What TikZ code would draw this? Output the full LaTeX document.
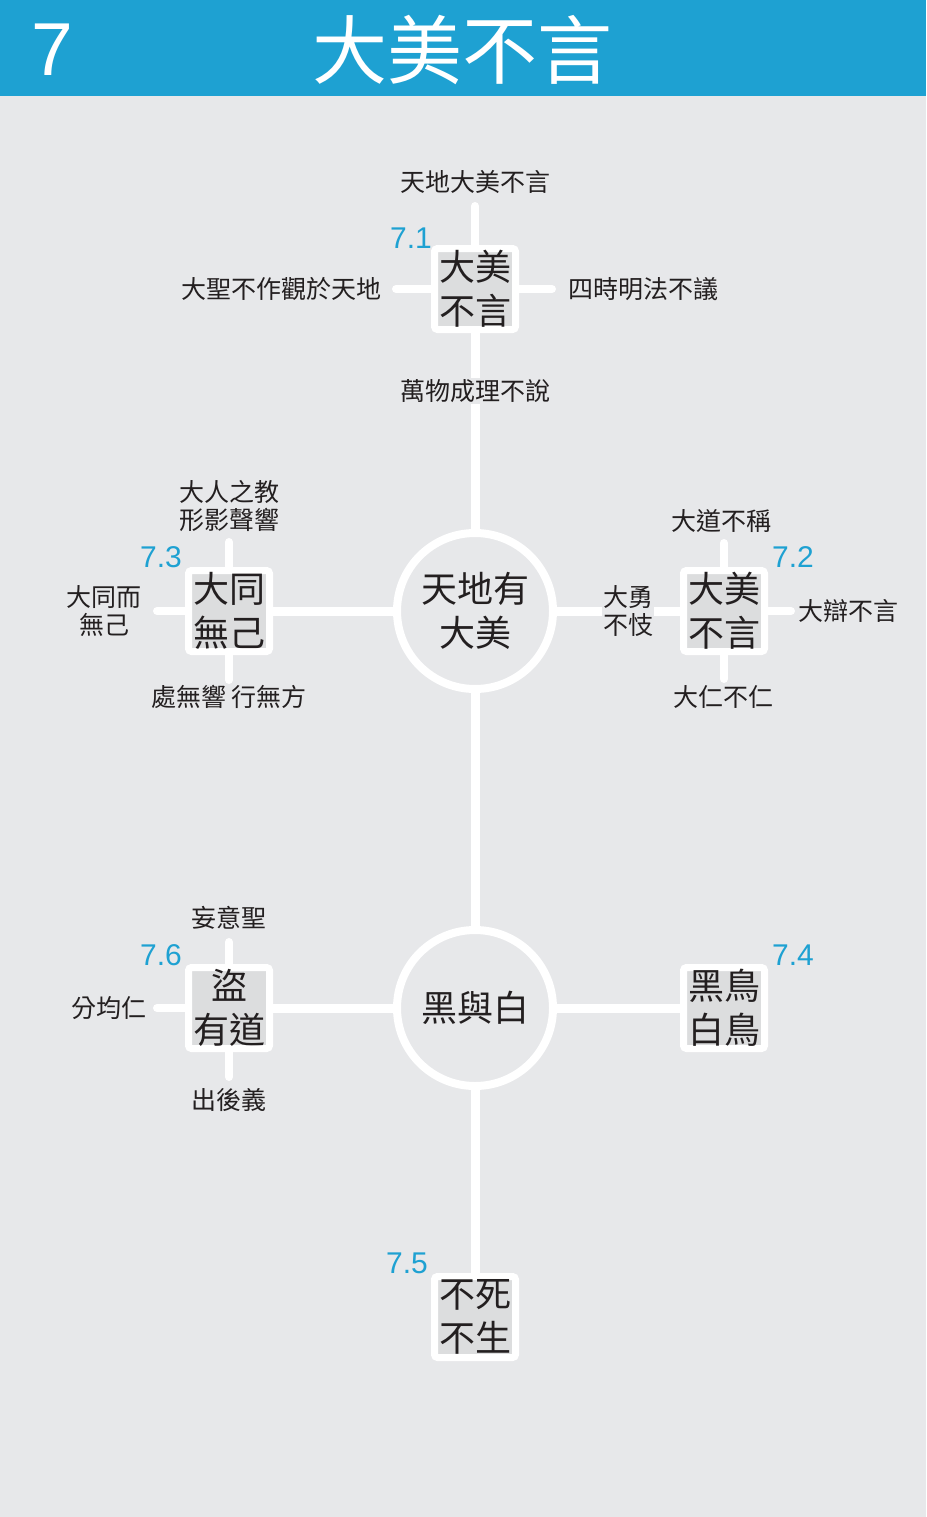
\documentclass[tikz,border=0pt]{standalone}
\usepackage{fontspec}
\setmainfont{Noto Sans CJK TC}
\newfontfamily\numfont{Liberation Sans}
\usetikzlibrary{calc}
\definecolor{bg}{HTML}{E7E8EA}
\definecolor{hl}{HTML}{DCDDDE}
\definecolor{band}{HTML}{1EA1D2}
\definecolor{ink}{HTML}{231F20}
\pgfdeclarelayer{back}
\pgfdeclarelayer{links}
\pgfsetlayers{back,links,main}

\begin{document}
\begin{tikzpicture}[x=1pt,y=-1pt,
    box/.style={draw=white,line width=7pt,rounded corners=3pt,fill=hl,text=ink,
      minimum width=81pt,minimum height=81pt,inner sep=0pt,align=center,
      font=\fontsize{36}{44}\selectfont},
    hub/.style={circle,draw=white,line width=8pt,fill=bg,text=ink,
      minimum size=156pt,inner sep=0pt,align=center,font=\fontsize{36}{44}\selectfont},
    leaf/.style={text=ink,inner sep=1pt,align=center,font=\fontsize{25}{28}\selectfont},
    tag/.style={text=band,font=\numfont\fontsize{30}{30}\selectfont},
    link/.style={draw=white,line width=9pt},
    stub/.style={draw=white,line width=8pt,line cap=round}]

  \useasboundingbox (0,0) rectangle (926,1517);
  \begin{pgfonlayer}{back}
    \fill[bg] (0,0) rectangle (926,1517);
    \fill[band] (0,0) rectangle (926,96);
  \end{pgfonlayer}

  \node[text=white,font=\numfont\fontsize{75}{75}\selectfont] (N) at (52,50) {7};
  \node[text=white,font=\fontsize{75}{75}\selectfont] (T) at (462,50) {大美不言};

  \coordinate (A) at (475,611);
  \coordinate (B) at (475,1008);
  \node[hub] (H1) at (A) {天地有\\大美};
  \node[hub] (H2) at (B) {黑與白};

  \node[box] (K1) at (475,289)  {大美\\不言};
  \node[box] (K2) at (724,611)  {大美\\不言};
  \node[box] (K3) at (229,611)  {大同\\無己};
  \node[box] (K4) at (724,1008) {黑鳥\\白鳥};
  \node[box] (K5) at (475,1317) {不死\\不生};
  \node[box] (K6) at (229,1008) {盜\\有道};

  \node[tag] (G1) at (411,238)  {7.1};
  \node[tag] (G2) at (793,557)  {7.2};
  \node[tag] (G3) at (161,557)  {7.3};
  \node[tag] (G4) at (793,955)  {7.4};
  \node[tag] (G5) at (407,1263) {7.5};
  \node[tag] (G6) at (161,955)  {7.6};

  \coordinate (K1n) at (475,206);
  \coordinate (K1w) at (396,289);
  \coordinate (K1e) at (552,289);
  \coordinate (K2n) at (724,543);
  \coordinate (K2e) at (791,611);
  \coordinate (K2s) at (724,679);
  \coordinate (K3n) at (229,542);
  \coordinate (K3w) at (157,611);
  \coordinate (K3s) at (229,680);
  \coordinate (K6n) at (229,942);
  \coordinate (K6w) at (157,1008);
  \coordinate (K6s) at (229,1077);

  \node[leaf] (L1n) at (475,182) {天地大美不言};
  \node[leaf,anchor=east] (L1w) at (383,289) {大聖不作觀於天地};
  \node[leaf,anchor=west] (L1e) at (567,289) {四時明法不議};
  \node[leaf,fill=bg] (L1s) at (475,391) {萬物成理不說};
  \node[leaf] (L2n) at (721,521) {大道不稱};
  \node[leaf,fill=bg] (L2w) at (628,611) {大勇\\不忮};
  \node[leaf,anchor=west] (L2e) at (797,611) {大辯不言};
  \node[leaf] (L2s) at (723,697) {大仁不仁};
  \node[leaf] (L3n) at (229,506) {大人之教\\形影聲響};
  \node[leaf] (L3w) at (104,611) {大同而\\無己};
  \node[leaf] (L3s) at (229,697) {處無響 行無方};
  \node[leaf] (L6n) at (229,918) {妄意聖};
  \node[leaf,anchor=east] (L6w) at (148,1008) {分均仁};
  \node[leaf] (L6s) at (229,1100) {出後義};

  \begin{pgfonlayer}{links}
    \draw[link] (K1) -- (H1) -- (H2) -- (K5);
    \draw[link] (K3) -- (H1) -- (K2);
    \draw[link] (K6) -- (H2) -- (K4);

    \draw[stub] (K1) -- (K1n);
    \draw[stub] (K1) -- (K1w);
    \draw[stub] (K1) -- (K1e);
    \draw[stub] (K2) -- (K2n);
    \draw[stub] (K2) -- (K2e);
    \draw[stub] (K2) -- (K2s);
    \draw[stub] (K3) -- (K3n);
    \draw[stub] (K3) -- (K3w);
    \draw[stub] (K3) -- (K3s);
    \draw[stub] (K6) -- (K6n);
    \draw[stub] (K6) -- (K6w);
    \draw[stub] (K6) -- (K6s);
  \end{pgfonlayer}

\end{tikzpicture}
\end{document}
